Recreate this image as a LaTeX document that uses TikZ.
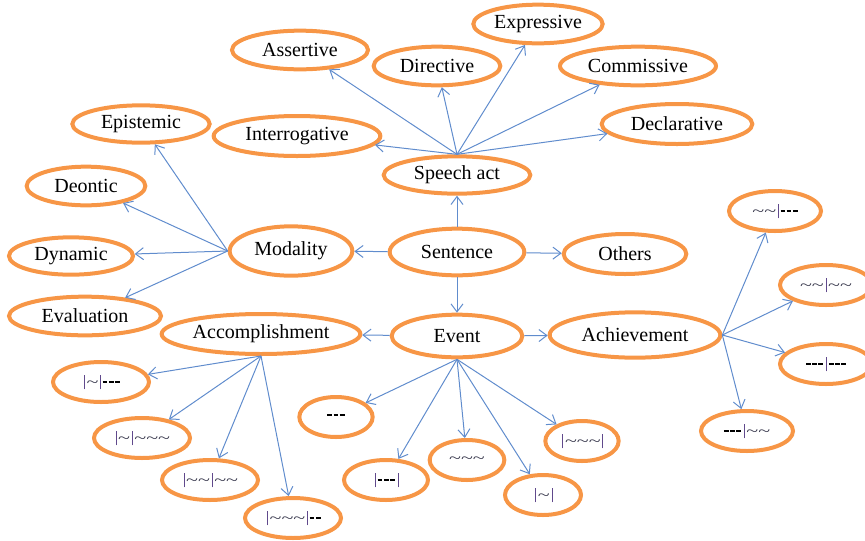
\documentclass[tikz,border=0pt]{standalone}
\usepackage{fontspec}
\setmainfont{Liberation Serif}
\usetikzlibrary{shapes.geometric,arrows.meta}

\definecolor{ovalorange}{RGB}{247,150,70}
\definecolor{linkblue}{RGB}{96,140,205}
\definecolor{barpurple}{RGB}{96,73,140}
\definecolor{wavegray}{RGB}{60,60,80}

\newcommand\br{\hspace{1.3pt}{\color{barpurple}\rule[-1.5pt]{0.6pt}{11pt}}\hspace{1.3pt}}
\newcommand\wv{{\color{wavegray}\scalebox{1.5}[1.1]{\textasciitilde}}}
\newcommand\dsh{\rule[3pt]{3.6pt}{1.8pt}\hspace{1pt}}

\tikzset{
	oval/.style={ellipse, draw=ovalorange, line width=3pt, inner sep=0pt,
		font=\fontsize{15}{18}\selectfont},
	leaf/.style={oval, minimum width=72pt, minimum height=30pt,
		font=\fontsize{11}{12}\selectfont},
	link/.style={draw=linkblue, line width=0.75pt,
		-{Straight Barb[length=6pt,width=9pt]}}
}

\begin{document}
\begin{tikzpicture}[x=0.75pt,y=-0.75pt]
	\useasboundingbox (0,0) rectangle (865,540);

	% middle row
	\node [oval, minimum width=101pt, minimum height=35pt] (sen) at (457,252) {Sentence};
	\node [oval, minimum width=110pt, minimum height=28pt] (sp) at (457,175) {Speech act};
	\node [oval, minimum width=92pt, minimum height=37pt] (mod) at (291,251) {Modality};
	\node [oval, minimum width=92pt, minimum height=30pt] (oth) at (625,254) {Others};
	\node [oval, minimum width=98pt, minimum height=32pt] (ev) at (457,336) {Event};
	\node [oval, minimum width=149pt, minimum height=30pt] (acc) at (261,334) {Accomplishment};
	\node [oval, minimum width=128pt, minimum height=34pt] (ach) at (635,335) {Achievement};

	% speech acts
	\node [oval, minimum width=102pt, minimum height=29pt] (ass) at (300,50) {Assertive};
	\node [oval, minimum width=95pt, minimum height=29pt] (dir) at (437,66) {Directive};
	\node [oval, minimum width=97pt, minimum height=29pt] (exp) at (538,24) {Expressive};
	\node [oval, minimum width=117pt, minimum height=29pt] (com) at (638,66) {Commissive};
	\node [oval, minimum width=113pt, minimum height=30pt] (dec) at (677,124) {Declarative};
	\node [oval, minimum width=125pt, minimum height=30pt] (int) at (297,136) {Interrogative};

	% modalities
	\node [oval, minimum width=103pt, minimum height=28pt] (epi) at (141,124) {Epistemic};
	\node [oval, minimum width=89pt, minimum height=29pt] (deo) at (86,186) {Deontic};
	\node [oval, minimum width=93pt, minimum height=28pt] (dyn) at (71,256) {Dynamic};
	\node [oval, minimum width=114pt, minimum height=29pt] (eva) at (85,316) {Evaluation};

	% accomplishment patterns
	\node [leaf] (acc1) at (101,382) {\br\wv\br\dsh\dsh\dsh};
	\node [leaf] (acc2) at (142,438) {\br\wv\br\wv\wv\wv};
	\node [leaf] (acc3) at (210,480) {\br\wv\wv\br\wv\wv};
	\node [leaf] (acc4) at (293,518) {\br\wv\wv\wv\br\dsh\dsh};

	% event patterns
	\node [leaf, minimum width=55pt] (ev1) at (336,417) {\dsh\dsh\dsh};
	\node [leaf, minimum width=63pt] (ev2) at (386,480) {\br\dsh\dsh\dsh\br};
	\node [leaf, minimum width=56pt] (ev3) at (467,460) {\wv\wv\wv};
	\node [leaf, minimum width=57pt] (ev4) at (543,495) {\br\wv\br};
	\node [leaf, minimum width=55pt] (ev5) at (582,441) {\br\wv\wv\wv\br};

	% achievement patterns
	\node [leaf, minimum width=69pt] (ach1) at (775,211) {\wv\wv\br\dsh\dsh\dsh};
	\node [leaf, minimum width=69pt] (ach2) at (826,285) {\wv\wv\br\wv\wv};
	\node [leaf, minimum width=69pt] (ach3) at (826,364) {\dsh\dsh\dsh\br\dsh\dsh\dsh};
	\node [leaf, minimum width=69pt] (ach4) at (747,431) {\dsh\dsh\dsh\br\wv\wv};

	\draw [link] (sen) -- (sp);
	\draw [link] (sen) -- (mod);
	\draw [link] (sen) -- (oth);
	\draw [link] (sen) -- (ev);
	\draw [link] (ev) -- (acc);
	\draw [link] (ev) -- (ach);

	\foreach \n in {ass,dir,exp,com,dec,int}
		\draw [link] (sp.north) -- (\n);
	\foreach \n in {epi,deo,dyn,eva}
		\draw [link] (mod.west) -- (\n);
	\foreach \n in {acc1,acc2,acc3,acc4}
		\draw [link] (acc.south) -- (\n);
	\foreach \n in {ev1,ev2,ev3,ev4,ev5}
		\draw [link] (ev.south) -- (\n);
	\foreach \n in {ach1,ach2,ach3,ach4}
		\draw [link] (ach.east) -- (\n);
\end{tikzpicture}
\end{document}
